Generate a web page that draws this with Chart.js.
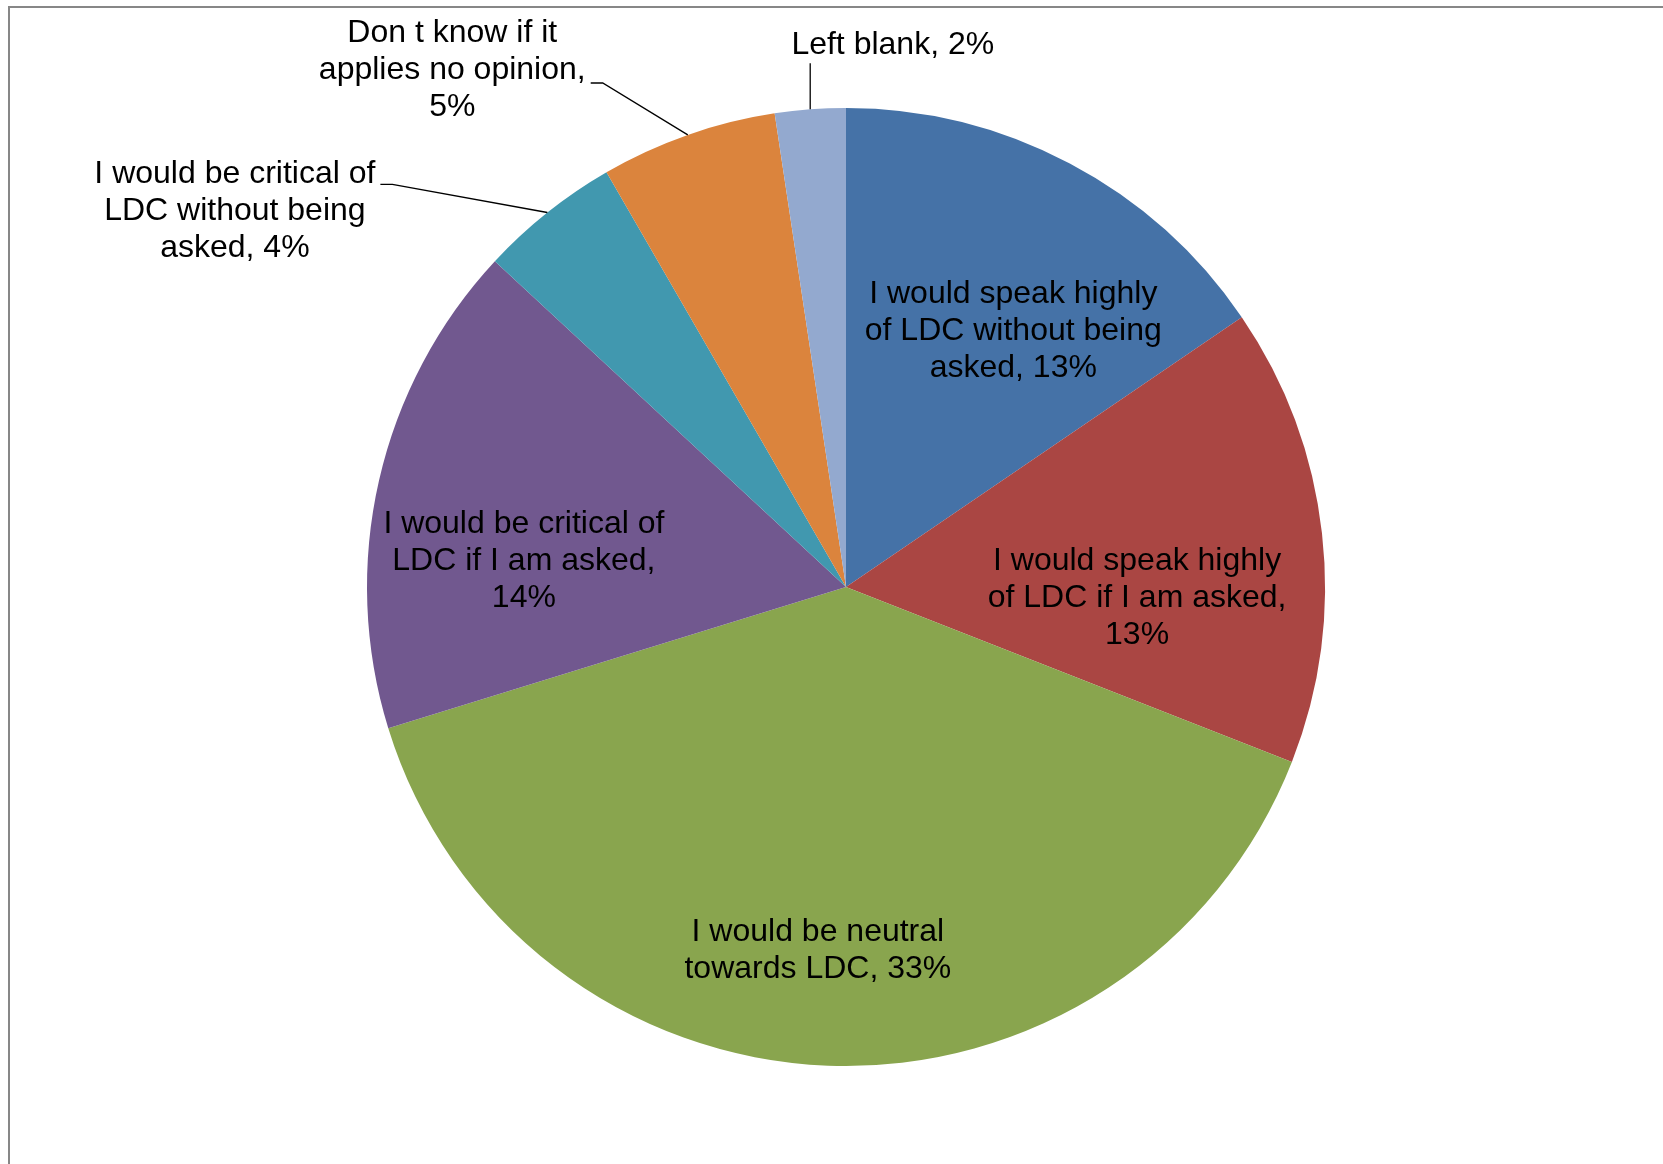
<!DOCTYPE html>
<html>
<head>
<meta charset="utf-8">
<script src="https://cdn.jsdelivr.net/npm/chart.js@4.4.1/dist/chart.umd.min.js"></script>
<style>
  html, body { margin: 0; padding: 0; background: #fff; }
  #wrap { width: 1663px; height: 1164px; }
</style>
</head>
<body>
<div id="wrap"><canvas id="pie" width="1663" height="1164"></canvas></div>
<script>
// ---------- data ----------
const categories = [
  'I would speak highly of LDC without being asked',
  'I would speak highly of LDC if I am asked',
  'I would be neutral towards LDC',
  'I would be critical of LDC if I am asked',
  'I would be critical of LDC without being asked',
  'Don t know if it applies no opinion',
  'Left blank'
];
const values = [13, 13, 33, 14, 4, 5, 2];
const colors = ['#4572A7', '#AA4643', '#89A54E', '#71588F', '#4198AF', '#DB843D', '#93A9CF'];

// label placement relative to each slice: angle shift (deg) from the bisector, radius as fraction of R
const placement = [
  { dA: 5.1,   r: 0.642 },
  { dA: 8.2,   r: 0.608 },
  { dA: 2.3,   r: 0.758 },
  { dA: -7.9,  r: 0.675 },
  { dA: -19.7, r: 1.50, leader: 'side', line: 0, off: 10 },
  { dA: -17.9, r: 1.36, leader: 'side', line: 1, off: 13 },
  { dA: 9.2,   r: 1.14, leader: 'below' }
];

const FONT_SIZE = 32;
const LINE_H = 36.8;
const WRAP_W = 310;
const TEXT_SHIFT = 2;

// greedy word wrap with measureText
function wrapText(ctx, text, maxW) {
  const words = text.split(' ');
  const lines = [];
  let cur = '';
  words.forEach(w => {
    const test = cur ? cur + ' ' + w : w;
    if (cur && ctx.measureText(test).width > maxW) {
      lines.push(cur);
      cur = w;
    } else {
      cur = test;
    }
  });
  if (cur) lines.push(cur);
  return lines;
}

// frame like the spreadsheet chart area (only top and left edges visible)
const framePlugin = {
  id: 'frame',
  beforeDraw(chart) {
    const ctx = chart.ctx;
    ctx.save();
    ctx.fillStyle = '#fff';
    ctx.fillRect(0, 0, chart.width, chart.height);
    ctx.strokeStyle = '#878787';
    ctx.lineWidth = 2;
    ctx.beginPath();
    ctx.moveTo(9, chart.height + 5);
    ctx.lineTo(9, 7);
    ctx.lineTo(chart.width + 5, 7);
    ctx.stroke();
    ctx.restore();
  }
};

// data labels with leader lines
const labelPlugin = {
  id: 'sliceLabels',
  afterDatasetsDraw(chart) {
    const ctx = chart.ctx;
    const meta = chart.getDatasetMeta(0);
    ctx.save();
    ctx.font = FONT_SIZE + 'px "Liberation Sans", Arial, sans-serif';
    ctx.fillStyle = '#000';
    ctx.textAlign = 'center';
    ctx.textBaseline = 'middle';
    meta.data.forEach((arc, i) => {
      const p = placement[i];
      const R = arc.outerRadius;
      const mid = (arc.startAngle + arc.endAngle) / 2;
      const ang = mid + p.dA * Math.PI / 180;
      const cx = arc.x + Math.cos(ang) * R * p.r;
      const cy = arc.y + Math.sin(ang) * R * p.r + TEXT_SHIFT;
      const text = categories[i] + ', ' + values[i] + '%';
      const lines = wrapText(ctx, text, WRAP_W);
      const top = cy - (lines.length - 1) * LINE_H / 2;
      lines.forEach((ln, k) => ctx.fillText(ln, cx, top + k * LINE_H));

      if (!p.leader) return;
      const ex = arc.x + Math.cos(mid) * R;
      const ey = arc.y + Math.sin(mid) * R;
      ctx.strokeStyle = '#000';
      ctx.lineWidth = 1.3;
      ctx.beginPath();
      if (p.leader === 'below') {
        const by = top + (lines.length - 1) * LINE_H + LINE_H / 2;
        ctx.moveTo(ex, by);
        ctx.lineTo(ex, ey);
      } else {
        const ln = lines[p.line];
        const lx = cx + ctx.measureText(ln).width / 2 + 5;
        const ly = top + p.line * LINE_H + p.off;
        ctx.moveTo(lx, ly);
        ctx.lineTo(lx + 12, ly);
        ctx.lineTo(ex, ey);
      }
      ctx.stroke();
    });
    ctx.restore();
  }
};

new Chart(document.getElementById('pie').getContext('2d'), {
  type: 'pie',
  data: {
    labels: categories,
    datasets: [{
      data: values,
      backgroundColor: colors,
      borderWidth: 0
    }]
  },
  options: {
    responsive: false,
    animation: false,
    layout: { padding: { top: 108, bottom: 98, left: 367, right: 338 } },
    plugins: {
      legend: { display: false },
      tooltip: { enabled: false }
    }
  },
  plugins: [framePlugin, labelPlugin]
});
</script>
</body>
</html>
